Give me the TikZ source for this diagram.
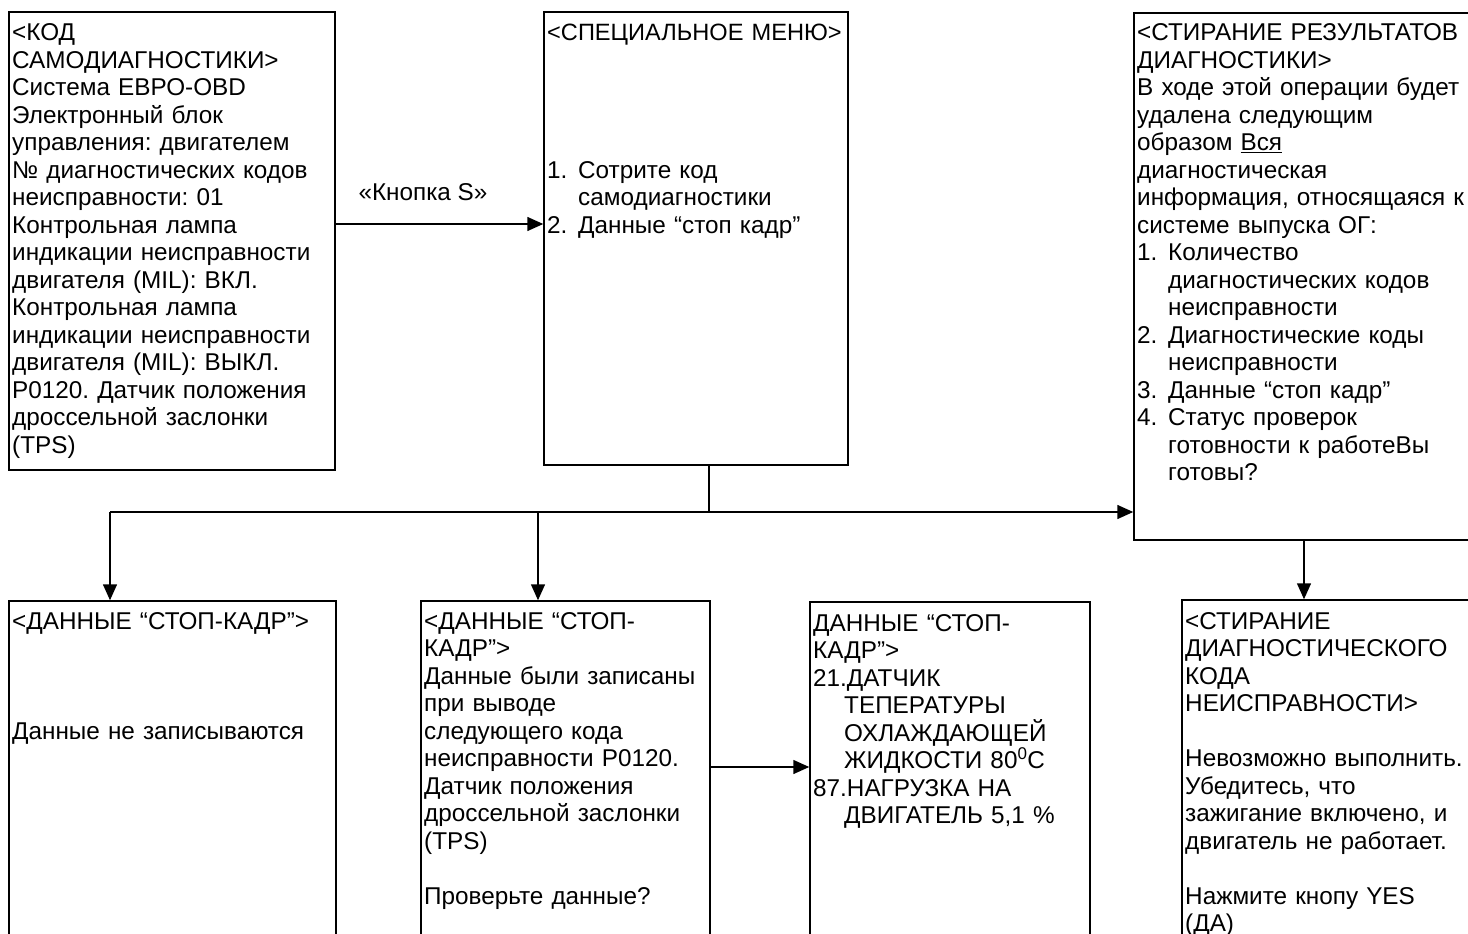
\documentclass[tikz,border=0pt]{standalone}
\usepackage{fontspec}
\setmainfont{Liberation Sans}
\usetikzlibrary{arrows.meta,fit}
\newcommand{\lnum}[1]{\makebox[31pt][l]{#1}}
\newcommand{\ind}{\hspace*{31pt}}
\frenchspacing
\begin{document}
\begin{tikzpicture}[x=1pt,y=-1pt,
  box/.style={draw, line width=1.5pt, inner sep=0pt},
  txt/.style={anchor=base west, inner sep=0pt, text width=420pt, align=left, font=\fontsize{24.3}{27.5}\selectfont},
  lbl/.style={anchor=base, inner sep=0pt, font=\fontsize{24.3}{27.5}\selectfont},
  arr/.style={line width=1.5pt, -{Triangle[length=16pt,width=14pt]}},
  ln/.style={line width=1.5pt}]
\useasboundingbox (0,0) rectangle (1468,934);
\clip (0,0) rectangle (1468,934);
\fill[white] (0,0) rectangle (1468,934);

% boxes
\node[box, fit={(9,12) (335,470)}] (b1) {};
\node[box, fit={(544,12) (848,465)}] (b2) {};
\node[box, fit={(1134,13) (1480,540)}] (b3) {};
\node[box, fit={(9,601) (336,960)}] (b4) {};
\node[box, fit={(421,601) (710,960)}] (b5) {};
\node[box, fit={(810,602) (1090,960)}] (b6) {};
\node[box, fit={(1182,600) (1480,960)}] (b7) {};

% texts
\node[txt] (t1) at (12,41) {<КОД\\
САМОДИАГНОСТИКИ>\\
Система ЕВРО-OBD\\
Электронный блок\\
управления: двигателем\\
№ диагностических кодов\\
неисправности: 01\\
Контрольная лампа\\
индикации неисправности\\
двигателя (MIL): ВКЛ.\\
Контрольная лампа\\
индикации неисправности\\
двигателя (MIL): ВЫКЛ.\\
P0120. Датчик положения\\
дроссельной заслонки\\
(TPS)};

\node[txt] (t2) at (547,41) {{\fontsize{23.6}{27.5}\selectfont <СПЕЦИАЛЬНОЕ МЕНЮ>}\\
\mbox{}\\
\mbox{}\\
\mbox{}\\
\mbox{}\\
\lnum{1.}Сотрите код\\
\ind самодиагностики\\
\lnum{2.}Данные “стоп кадр”};

\node[txt] (t3) at (1137,41) {<СТИРАНИЕ РЕЗУЛЬТАТОВ\\
ДИАГНОСТИКИ>\\
В ходе этой операции будет\\
удалена следующим\\
образом \underline{Вся}\\
диагностическая\\
информация, относящаяся к\\
системе выпуска ОГ:\\
\lnum{1.}Количество\\
\ind диагностических кодов\\
\ind неисправности\\
\lnum{2.}Диагностические коды\\
\ind неисправности\\
\lnum{3.}Данные “стоп кадр”\\
\lnum{4.}Статус проверок\\
\ind готовности к работеВы\\
\ind готовы?};

\node[txt] (t4) at (12,629) {<ДАННЫЕ “СТОП-КАДР”>\\
\mbox{}\\
\mbox{}\\
\mbox{}\\
Данные не записываются};

\node[txt] (t5) at (424,629) {<ДАННЫЕ “СТОП-\\
КАДР”>\\
Данные были записаны\\
при выводе\\
следующего кода\\
неисправности P0120.\\
Датчик положения\\
дроссельной заслонки\\
(TPS)\\
\mbox{}\\
Проверьте данные?};

\node[txt] (t6) at (813,631) {ДАННЫЕ “СТОП-\\
КАДР”>\\
21.ДАТЧИК\\
\ind ТЕПЕРАТУРЫ\\
\ind ОХЛАЖДАЮЩЕЙ\\
\ind ЖИДКОСТИ 80\textsuperscript{0}C\\
87.НАГРУЗКА НА\\
\ind ДВИГАТЕЛЬ 5,1 \%};

\node[txt] (t7) at (1185,629) {<СТИРАНИЕ\\
ДИАГНОСТИЧЕСКОГО\\
КОДА\\
НЕИСПРАВНОСТИ>\\
\mbox{}\\
Невозможно выполнить.\\
Убедитесь, что\\
зажигание включено, и\\
двигатель не работает.\\
\mbox{}\\
Нажмите кнопу YES\\
(ДА)};

% connectors
\coordinate (k) at (0,224);
\draw[arr] (b1.east |- k) -- (b2.west |- k);
\node[lbl] (kl) at (423,200) {«Кнопка S»};

\coordinate (j) at (709,512);
\draw[ln] (j |- b2.south) -- (j);
\coordinate (jl) at (110,512);
\coordinate (jm) at (538,512);
\draw[arr] (jl) -- (b3.west |- jl);
\draw[arr] (jl) -- (jl |- b4.north);
\draw[arr] (jm) -- (jm |- b5.north);

\coordinate (m) at (0,767);
\draw[arr] (b5.east |- m) -- (b6.west |- m);

\coordinate (r) at (1304,0);
\draw[arr] (r |- b3.south) -- (r |- b7.north);
\end{tikzpicture}
\end{document}
